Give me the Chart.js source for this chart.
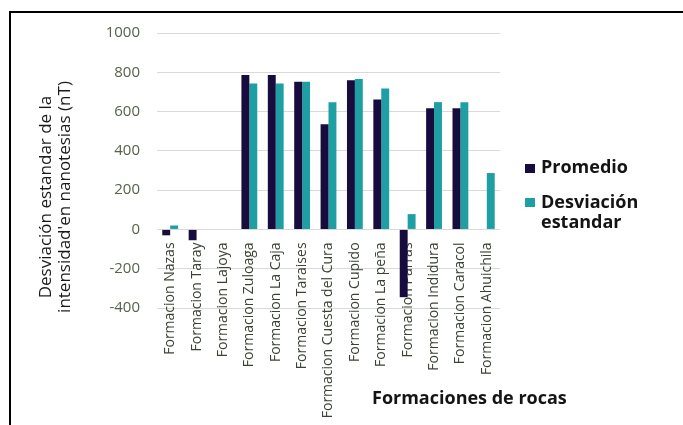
<!DOCTYPE html>
<html>
<head>
<meta charset="utf-8">
<script src="https://cdn.jsdelivr.net/npm/chart.js@4/dist/chart.umd.min.js"></script>
<style>
  html, body { margin: 0; padding: 0; background: #fff; }
  #wrap { position: relative; width: 683px; height: 425px; overflow: hidden; background: #fff; }
  #c { position: absolute; left: 0; top: 0; }
  #frame { position: absolute; left: 9px; top: 11px; width: 700px; height: 440px;
           border-top: 2.5px solid #000; border-left: 2.5px solid #000; box-sizing: border-box; }
  .txt { position: absolute; font-family: "Open Sans", sans-serif; color: #141414; white-space: nowrap; }
  #ytitle { left: -96px; top: 178px; width: 300px; height: 38px; line-height: 19px; font-size: 17px;
            text-align: center; transform: rotate(-90deg); transform-origin: 150px 19px; color: #1a1a1a; }
  #xtitle { left: 372px; top: 387px; font-size: 18px; font-weight: 700; line-height: 20px; }
  .lg { position: absolute; left: 541px; font-size: 18px; font-weight: 700; line-height: 20px; }
  .sq { position: absolute; width: 10px; height: 9px; }
</style>
</head>
<body>
<div id="wrap">
  <canvas id="c" width="683" height="425"></canvas>
  <div id="frame"></div>
  <div id="ytitle" class="txt">Desviación estandar de la<br>intensidad'en nanotesias (nT)</div>
  <div id="xtitle" class="txt">Formaciones de rocas</div>
  <div class="sq" style="left:525px;top:164px;background:#180c3e"></div>
  <div class="txt lg" style="top:156px">Promedio</div>
  <div class="sq" style="left:525px;top:198px;background:#1d9fa3"></div>
  <div class="txt lg" style="top:191px">Desviación<br>estandar</div>
</div>
<script>
const categories = [
  "Formacion Nazas", "Formacion Taray", "Formacion Lajoya", "Formacion Zuloaga",
  "Formacion La Caja", "Formacion Taraises", "Formacion Cuesta del Cura", "Formacion Cupido",
  "Formacion La peña", "Formacion Parras", "Formacion Indidura", "Formacion Caracol",
  "Formacion Ahuichila"
];
const promedio   = [-30, -55, 0, 786, 786, 752, 535, 759, 662, -345, 617, 617, 0];
const desviacion = [20, 0, 0, 743, 743, 752, 648, 766, 718, 78, 648, 648, 287];
const seriesNames = ["Promedio", "Desviación estandar"];
const yMin = -400, yMax = 1000, yStep = 200;

new Chart(document.getElementById('c'), {
  type: 'bar',
  data: {
    labels: categories,
    datasets: [
      { label: seriesNames[0], data: promedio, backgroundColor: '#180c3e',
        categoryPercentage: 0.6, barPercentage: 1.0 },
      { label: seriesNames[1], data: desviacion, backgroundColor: '#1d9fa3',
        categoryPercentage: 0.6, barPercentage: 1.0 }
    ]
  },
  options: {
    responsive: false,
    animation: false,
    devicePixelRatio: 1,
    layout: { padding: { left: 0, top: 33, right: 183, bottom: 117 } },
    plugins: { legend: { display: false }, tooltip: { enabled: false } },
    scales: {
      x: {
        position: { y: 0 },
        grid: { display: false },
        border: { display: false },
        ticks: {
          autoSkip: false, minRotation: 90, maxRotation: 90, padding: 5,
          color: '#3a4234', font: { family: 'Open Sans', size: 14 }
        },
        afterFit: s => { s.height = 0; }
      },
      y: {
        min: yMin, max: yMax,
        grid: { color: '#d9d9d9', drawTicks: false, lineWidth: 1 },
        border: { display: false },
        ticks: {
          stepSize: yStep, padding: 17,
          color: '#56634a', font: { family: 'Open Sans', size: 15 },
          callback: v => String(v)
        },
        afterFit: s => { s.width = 157; }
      }
    }
  }
});
</script>
</body>
</html>
